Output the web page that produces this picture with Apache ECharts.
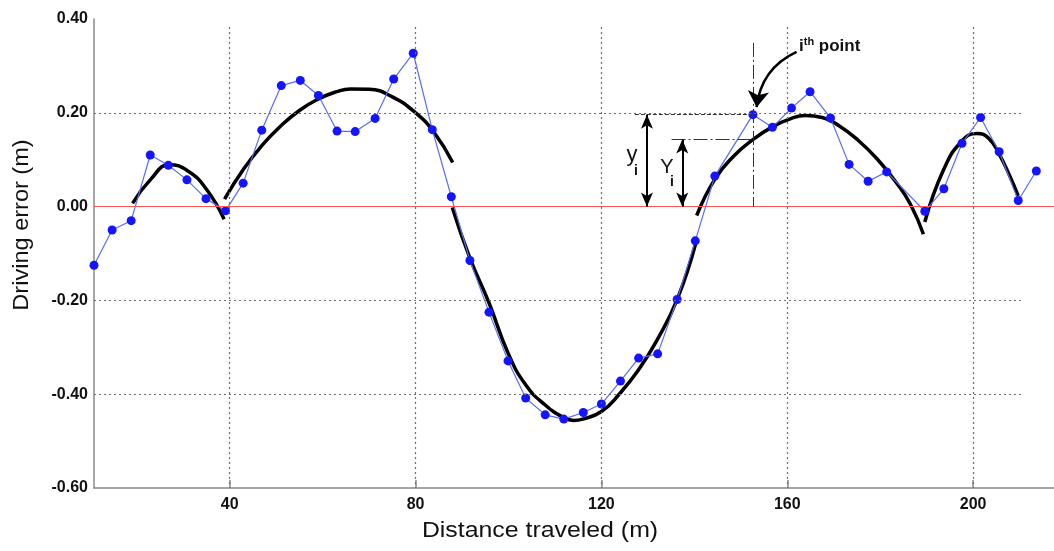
<!DOCTYPE html>
<html>
<head>
<meta charset="utf-8">
<script src="https://cdn.jsdelivr.net/npm/echarts@6/dist/echarts.min.js"></script>
<style>
  html, body { margin: 0; padding: 0; background: #fff; }
  #chart { width: 1054px; height: 551px; }
</style>
</head>
<body>
<div id="chart"></div>
<script>
// measured points (blue)
const distX = [10.8, 14.7, 18.8, 22.9, 26.8, 30.8, 34.9, 39.1, 42.9, 46.9, 51.1, 55.2, 59.1, 63.1, 67.0,
    71.3, 75.3, 79.5, 83.6, 87.7, 91.7, 95.8, 99.9, 103.7, 107.9, 111.9, 116.1, 120.0, 124.1, 128.0,
    132.1, 136.3, 140.2, 144.4, 152.6, 156.8, 160.9, 164.9, 169.3, 173.3, 177.4, 181.4, 189.6, 193.7,
    197.6, 201.6, 205.6, 209.7, 213.6];
const errY = [-0.125, -0.050, -0.030, 0.110, 0.088, 0.057, 0.017, -0.009, 0.050, 0.163, 0.258, 0.269, 0.237, 0.161, 0.160,
    0.188, 0.272, 0.327, 0.164, 0.021, -0.115, -0.225, -0.329, -0.408, -0.444, -0.453, -0.439, -0.421, -0.372, -0.323,
    -0.314, -0.198, -0.073, 0.065, 0.196, 0.169, 0.210, 0.245, 0.189, 0.090, 0.054, 0.074, -0.010, 0.038,
    0.135, 0.190, 0.117, 0.013, 0.076];

// fitted segments (black)
const fit1X = [19.1, 23, 27, 31, 35, 38.8];
const fit1Y = [0.007, 0.058, 0.089, 0.076, 0.037, -0.027];
const fit2X = [38.9, 43, 47, 51, 55, 59, 63, 66, 70, 75, 80, 84, 88];
const fit2Y = [0.016, 0.080, 0.131, 0.172, 0.205, 0.229, 0.245, 0.251, 0.250, 0.234, 0.200, 0.158, 0.094];
const fit3X = [87.9, 91.7, 95.8, 99.9, 103.7, 107.9, 111.9, 114, 116, 120, 124, 128, 132, 136.3, 140.3];
const fit3Y = [-0.002, -0.11, -0.205, -0.312, -0.380, -0.423, -0.450, -0.456, -0.453, -0.437, -0.398, -0.348, -0.284, -0.198, -0.078];
const fit4X = [140.5, 144.4, 148.5, 152.6, 156.8, 160.9, 163.8, 167.5, 171.2, 175.3, 179.4, 183.4, 186.5, 189.3];
const fit4Y = [-0.019, 0.058, 0.108, 0.143, 0.170, 0.188, 0.194, 0.190, 0.172, 0.141, 0.101, 0.052, 0.005, -0.059];
const fit5X = [189.6, 193.7, 197.6, 200.8, 203.4, 205.6, 207.9, 209.7];
const fit5Y = [-0.033, 0.080, 0.140, 0.156, 0.145, 0.112, 0.065, 0.023];

// axis ticks
const xTicks = [40, 80, 120, 160, 200];
const yTicks = [0.2, -0.2, -0.4];

// i-th point annotation
const pointI = [152.6, 0.196];
const fitI = 0.143;

const zip = (xs, ys) => xs.map((x, i) => [x, ys[i]]);

const chart = echarts.init(document.getElementById('chart'));

const font = 'Liberation Sans, Arial';
const gridStyle = { color: '#6f6f6f', type: [2, 3], width: 1.2 };
let gridLines = [];
xTicks.forEach(v => {
    gridLines.push([{ coord: [v, 0.383] }, { coord: [v, -0.6] }]);
});
yTicks.forEach(v => {
    gridLines.push([{ coord: [10.8, v] }, { coord: [210.5, v] }]);
});

const fitSeries = [zip(fit1X, fit1Y), zip(fit2X, fit2Y), zip(fit3X, fit3Y), zip(fit4X, fit4Y), zip(fit5X, fit5Y)]
    .map(d => ({
        type: 'line',
        data: d,
        smooth: 0.5,
        showSymbol: false,
        symbol: 'none',
        z: 3,
        lineStyle: { color: '#000', width: 3.5 },
        silent: true,
    }));

let option = {
    animation: false,
    backgroundColor: '#fff',
    grid: { left: 94, right: 0, top: 19, bottom: 63 },
    xAxis: {
        type: 'value',
        min: 10.8,
        max: 217.4,
        axisLine: { onZero: false, lineStyle: { color: '#888', width: 1.5 } },
        axisTick: { show: true, inside: true, length: 8, customValues: xTicks, lineStyle: { color: '#888', width: 1.5 } },
        axisLabel: {
            customValues: xTicks,
            color: '#111',
            fontFamily: font,
            fontWeight: 'bold',
            fontSize: 16,
            margin: 9,
        },
        splitLine: { show: false },
    },
    yAxis: {
        type: 'value',
        min: -0.6,
        max: 0.4,
        interval: 0.2,
        axisLine: { show: true, lineStyle: { color: '#888', width: 1.5 } },
        axisTick: { show: false },
        axisLabel: {
            color: '#111',
            fontFamily: font,
            fontWeight: 'bold',
            fontSize: 16,
            margin: 6,
            formatter: v => v.toFixed(2),
        },
        splitLine: { show: false },
    },
    graphic: [
        {
            type: 'text',
            x: 22, y: 225, rotation: Math.PI / 2, scaleX: 1.07,
            style: {
                text: 'Driving error (m)', fill: '#111', align: 'center', verticalAlign: 'middle',
                fontFamily: font, fontSize: 22,
            },
        },
        {
            type: 'text',
            x: 540, y: 531, scaleX: 1.13,
            style: {
                text: 'Distance traveled (m)', fill: '#111', align: 'center', verticalAlign: 'middle',
                fontFamily: font, fontSize: 22,
            },
        },
        {
            type: 'text',
            x: 799, y: 46,
            style: {
                text: '{a|i}{b|th}{a| point}', fill: '#111', align: 'left', verticalAlign: 'middle',
                rich: {
                    a: { fontFamily: font, fontWeight: 'bold', fontSize: 17, fill: '#111' },
                    b: { fontFamily: font, fontWeight: 'bold', fontSize: 11, fill: '#111', padding: [0, 0, 9, 0] },
                },
            },
        },
        { type: 'text', x: 632, y: 155, style: { text: 'y', fill: '#111', align: 'center', verticalAlign: 'middle', fontFamily: font, fontSize: 22 } },
        { type: 'text', x: 636, y: 171, style: { text: 'i', fill: '#111', align: 'center', verticalAlign: 'middle', fontFamily: font, fontWeight: 'bold', fontSize: 14 } },
        { type: 'text', x: 667, y: 167, style: { text: 'Y', fill: '#111', align: 'center', verticalAlign: 'middle', fontFamily: font, fontSize: 20 } },
        { type: 'text', x: 672, y: 182, style: { text: 'i', fill: '#111', align: 'center', verticalAlign: 'middle', fontFamily: font, fontWeight: 'bold', fontSize: 14 } },
    ],
    series: [
        {
            type: 'line',
            data: [],
            z: 1,
            silent: true,
            markLine: {
                silent: true,
                symbol: 'none',
                animation: false,
                label: { show: false },
                lineStyle: gridStyle,
                data: gridLines,
            },
        },
        {
            type: 'line',
            data: [],
            z: 2,
            silent: true,
            markLine: {
                silent: true,
                symbol: 'none',
                animation: false,
                label: { show: false },
                data: [
                    { yAxis: 0, lineStyle: { color: '#ff5555', width: 1.2, type: 'solid' } },
                    [{ coord: [pointI[0], 0.349], lineStyle: { color: '#333', width: 1, type: [14, 3, 2, 3] } }, { coord: [pointI[0], 0] }],
                    [{ coord: [127.2, pointI[1]], lineStyle: { color: '#333', width: 1.2, type: [4, 2] } }, { coord: [pointI[0], pointI[1]] }],
                    [{ coord: [135.1, fitI], lineStyle: { color: '#333', width: 1, type: [14, 3, 2, 3] } }, { coord: [pointI[0], fitI] }],
                    [{ coord: [129.8, pointI[1]], symbol: 'arrow', symbolSize: [9, 14], lineStyle: { color: '#000', width: 2, type: 'solid' } },
                        { coord: [129.8, 0], symbol: 'arrow', symbolSize: [9, 14] }],
                    [{ coord: [137.4, fitI], symbol: 'arrow', symbolSize: [9, 14], lineStyle: { color: '#000', width: 2, type: 'solid' } },
                        { coord: [137.4, 0], symbol: 'arrow', symbolSize: [9, 14] }],
                ],
            },
        },
        {
            type: 'lines',
            coordinateSystem: 'cartesian2d',
            z: 5,
            silent: true,
            symbol: ['none', 'arrow'],
            symbolSize: [12, 16],
            lineStyle: { color: '#000', width: 2.5, curveness: -0.28, opacity: 1 },
            data: [{ coords: [[162.0, 0.33], [153.4, 0.212]] }],
        },
        ...fitSeries,
        {
            type: 'line',
            data: zip(distX, errY),
            z: 4,
            symbol: 'circle',
            symbolSize: 9,
            showAllSymbol: true,
            itemStyle: { color: '#1414ff' },
            lineStyle: { color: '#5a6cf0', width: 1.2 },
            silent: true,
        },
    ],
};

chart.setOption(option);
</script>
</body>
</html>
